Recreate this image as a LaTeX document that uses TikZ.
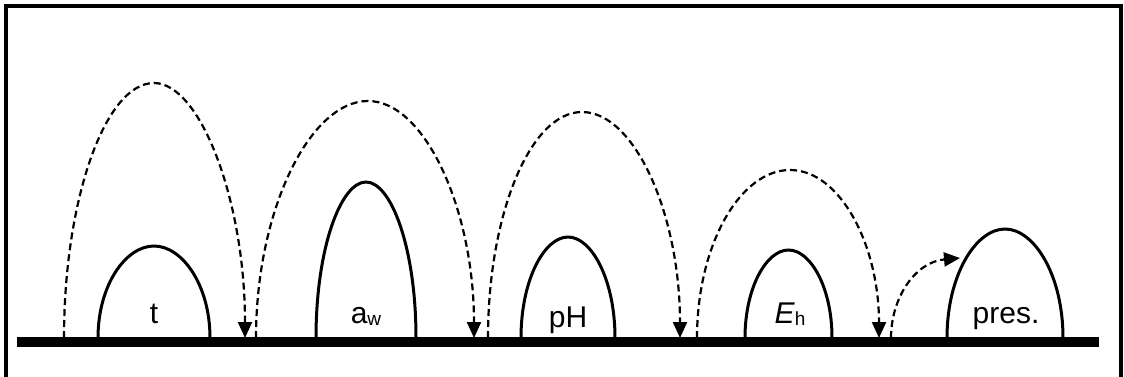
\documentclass[tikz,border=0pt]{standalone}
\usepackage{fontspec}
\setmainfont{Liberation Sans}
\usetikzlibrary{arrows.meta}
\begin{document}
\begin{tikzpicture}[x=1pt,y=-1pt,
  frame/.style={line width=4pt},
  ground/.style={line width=10pt},
  hump/.style={line width=3pt},
  jump/.style={line width=2.2pt, dash pattern=on 7pt off 4pt},
  tip/.style={-{Triangle[length=16pt,width=14pt]}},
  lbl/.style={font=\fontsize{30}{32}\selectfont, anchor=base, inner sep=0pt}]
\useasboundingbox (0,0) rectangle (1124,376);
% frame
\draw[frame] (6,380) -- (6,6) -- (1121,6) -- (1121,380);
% hurdles
\foreach \a/\b/\t in {98/210/246, 316/416/182, 521/615/237, 745/832/250, 947/1063/229}{
  \pgfmathsetmacro\c{(\a+\b)/2}
  \pgfmathsetmacro\hw{(\b-\a)/2}
  \pgfmathsetmacro\cy{338-0.58*(338-\t)}
  \pgfmathsetmacro\cl{\c-0.5*\hw}
  \pgfmathsetmacro\cr{\c+0.5*\hw}
  \draw[hump] (\a,338) .. controls (\a,\cy) and (\cl,\t) .. (\c,\t)
              .. controls (\cr,\t) and (\b,\cy) .. (\b,338);
}
% ground
\draw[ground] (17,342) -- (1099,342);
% labels
\node[lbl] (lt) at (154,323) {t};
\node[lbl] (law) at (366,323) {a{\fontsize{19}{19}\selectfont\raisebox{-2pt}{w}}};
\node[lbl] (lph) at (568,327) {pH};
\node[lbl] (leh) at (790,323) {\textit{E}{\fontsize{19}{19}\selectfont\raisebox{-2pt}{h}}};
\node[lbl] (lpr) at (1006,323) {pres.};
% jump coordinates
\coordinate (s1) at (64,338);  \coordinate (t1) at (154,83);  \coordinate (e1) at (245,338);
\coordinate (s2) at (256,338); \coordinate (t2) at (368,101); \coordinate (e2) at (474,338);
\coordinate (s3) at (488,338); \coordinate (t3) at (582,112); \coordinate (e3) at (680,338);
\coordinate (s4) at (697,338); \coordinate (t4) at (790,170); \coordinate (e4) at (879,338);
\coordinate (s5) at (891,338); \coordinate (e5) at (960,258);
% jumps
\draw[jump,tip] (s1) .. controls (64,200) and (105,83) .. (t1)
                     .. controls (200,83) and (245,200) .. (e1);
\draw[jump,tip] (s2) .. controls (256,210) and (310,101) .. (t2)
                     .. controls (425,101) and (474,210) .. (e2);
\draw[jump,tip] (s3) .. controls (488,215) and (530,112) .. (t3)
                     .. controls (635,112) and (680,215) .. (e3);
\draw[jump,tip] (s4) .. controls (697,245) and (740,170) .. (t4)
                     .. controls (840,170) and (879,245) .. (e4);
\draw[jump,tip] (s5) .. controls (891,298) and (915,262) .. (e5);
\end{tikzpicture}
\end{document}
